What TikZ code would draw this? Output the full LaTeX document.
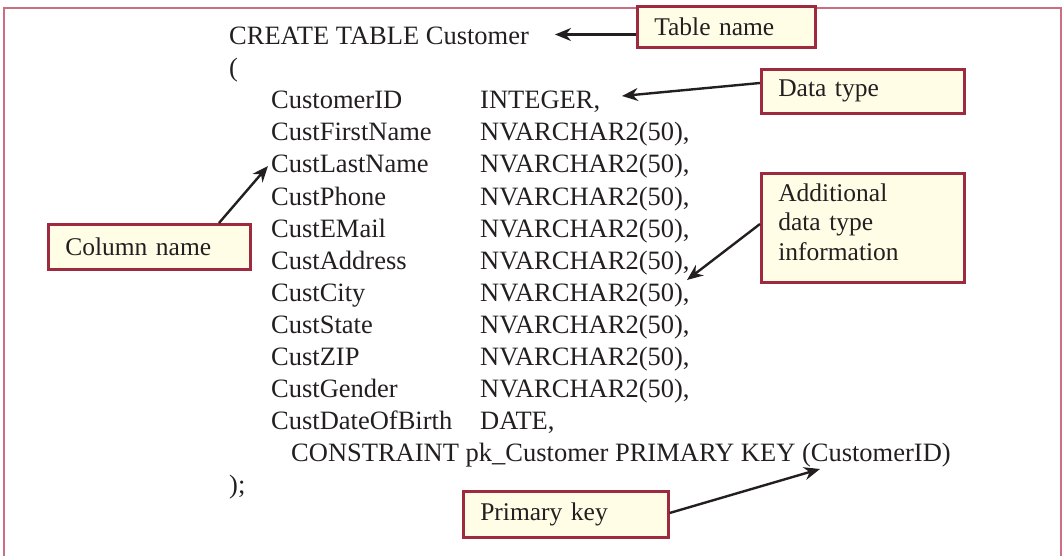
\documentclass[tikz,border=0pt]{standalone}
\usepackage{fontspec}
\setmainfont{Liberation Serif}
\usetikzlibrary{arrows.meta}
\definecolor{framered}{RGB}{204,110,130}
\definecolor{boxred}{RGB}{158,42,63}
\definecolor{boxfill}{RGB}{255,253,230}
\definecolor{ink}{RGB}{35,31,32}
\tikzset{
  code/.style={anchor=base west, inner sep=0pt, text=ink, font=\fontsize{26.5}{30}\selectfont},
  callout/.style={draw=boxred, line width=2.6pt, fill=boxfill, anchor=north west,
    inner xsep=17pt, inner ysep=0pt, align=left, text=ink,
    font=\fontsize{25.5}{29.5}\selectfont},
  pointer/.style={draw=ink, line width=2.4pt, -{Stealth[length=16pt,width=13pt]}},
}
\begin{document}
\begin{tikzpicture}[x=1pt,y=-1pt]
\useasboundingbox (0,0) rectangle (1062,556);
% page frame (open at the bottom)
\draw[framered, line width=2pt] (3.5,556) -- (3.5,8.5) -- (1060.5,8.5) -- (1060.5,556);

% SQL statement
\node[code] (create) at (229,45) {CREATE TABLE Customer};
\node[code] (open) at (229,77) {(};
\node[code] (c1) at (271,109) {CustomerID};
\node[code] (t1) at (480,109) {INTEGER,};
\node[code] (c2) at (271,141) {CustFirstName};
\node[code] (t2) at (480,141) {NVARCHAR2(50),};
\node[code] (c3) at (271,173) {CustLastName};
\node[code] (t3) at (480,173) {NVARCHAR2(50),};
\node[code] (c4) at (271,205) {CustPhone};
\node[code] (t4) at (480,205) {NVARCHAR2(50),};
\node[code] (c5) at (271,237) {CustEMail};
\node[code] (t5) at (480,237) {NVARCHAR2(50),};
\node[code] (c6) at (271,269) {CustAddress};
\node[code] (t6) at (480,269) {NVARCHAR2(50),};
\node[code] (c7) at (271,301) {CustCity};
\node[code] (t7) at (480,301) {NVARCHAR2(50),};
\node[code] (c8) at (271,333) {CustState};
\node[code] (t8) at (480,333) {NVARCHAR2(50),};
\node[code] (c9) at (271,365) {CustZIP};
\node[code] (t9) at (480,365) {NVARCHAR2(50),};
\node[code] (c10) at (271,397) {CustGender};
\node[code] (t10) at (480,397) {NVARCHAR2(50),};
\node[code] (c11) at (271,429) {CustDateOfBirth};
\node[code] (t11) at (480,429) {DATE,};
\node[code] (pk) at (291,461) {CONSTRAINT pk\_Customer PRIMARY KEY (CustomerID)};
\node[code] (close) at (229,493) {);};

% callouts
\node[callout, minimum width=178pt, minimum height=41pt, text width=144pt] (tname) at (636,5) {Table name};
\node[callout, minimum width=203pt, minimum height=44pt, text width=169pt] (dtype) at (760,68) {Data type};
\node[callout, minimum width=203pt, minimum height=109pt, text width=169pt] (extra) at (760,172)
  {Additional\\data type\\information\par\vspace{12pt}};
\node[callout, minimum width=202pt, minimum height=45pt, text width=168pt] (cname) at (47,223) {Column name};
\node[callout, minimum width=205pt, minimum height=46pt, text width=171pt] (pkey) at (462,490) {Primary key};

% arrow ends
\coordinate (tnameTip) at (555,34.5);
\coordinate (dtypeTail) at (760,83);
\coordinate (dtypeTip) at (622,96);
\coordinate (cnameTail) at (219,223);
\coordinate (cnameTip) at (268,166);
\coordinate (extraTail) at (760,224);
\coordinate (extraTip) at (687,280);
\coordinate (pkeyTail) at (667,513);
\coordinate (pkeyTip) at (820,469);

\draw[pointer] (tname.west |- tnameTip) -- (tnameTip);
\draw[pointer] (dtype.west |- dtypeTail) -- (dtypeTip);
\draw[pointer] (cname.north -| cnameTail) -- (cnameTip);
\draw[pointer] (extra.west |- extraTail) -- (extraTip);
\draw[pointer] (pkey.east |- pkeyTail) -- (pkeyTip);
\end{tikzpicture}
\end{document}
